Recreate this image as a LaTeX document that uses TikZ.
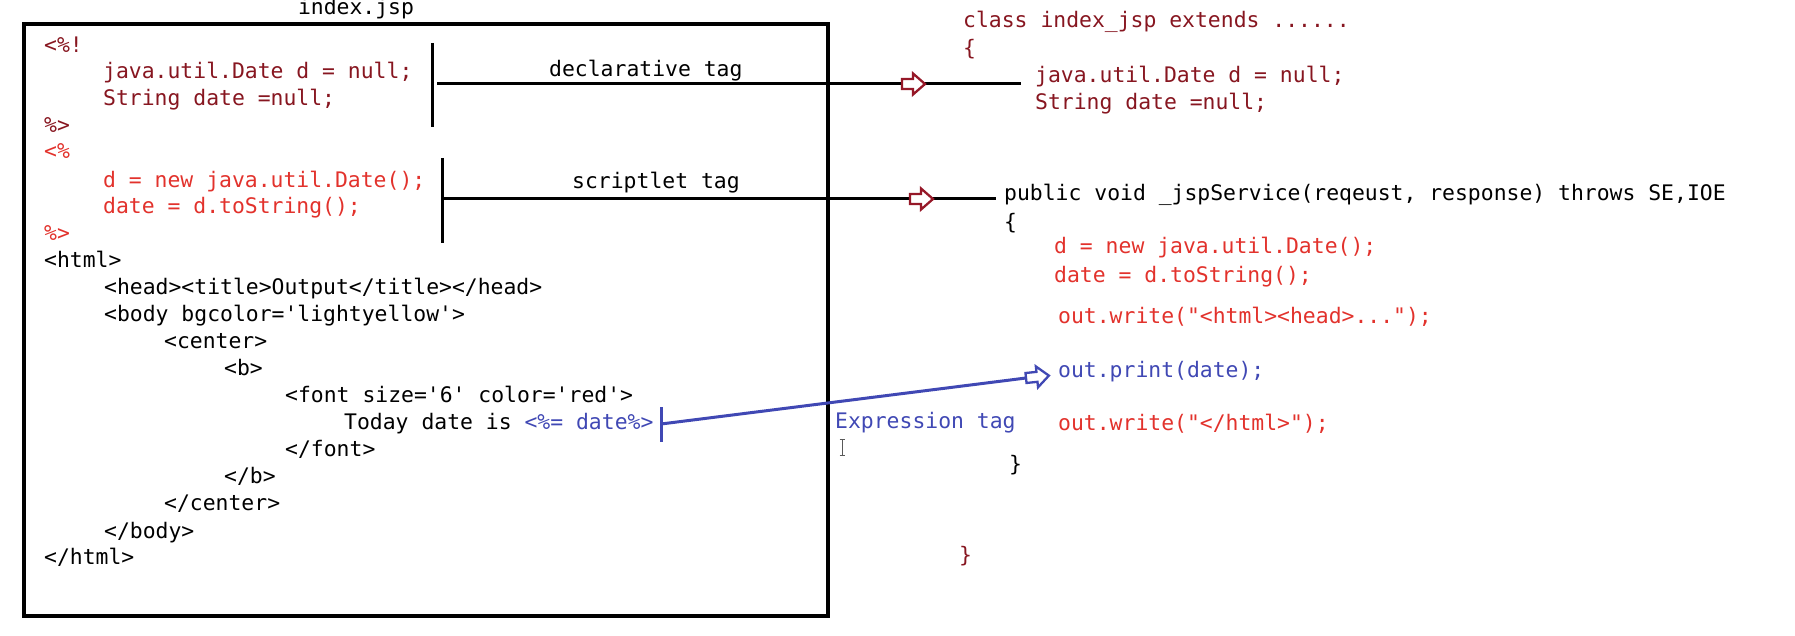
\documentclass[tikz,border=0pt]{standalone}
\usepackage{fontspec}
\setmonofont{DejaVu Sans Mono}
\definecolor{dred}{RGB}{135,22,32}
\definecolor{cred}{RGB}{226,50,44}
\definecolor{cblue}{RGB}{64,72,180}
\definecolor{ared}{RGB}{150,24,40}
\newcommand\fatarrow[3]{% anchor coordinate, colour, rotation
  \begin{scope}[shift={(#1)}, rotate=#3]
    \draw[#2, line width=2.3pt, fill=white, line join=miter]
      (0,-5) -- (11,-5) -- (11,-10.5) -- (23,0) -- (11,10.5) -- (11,5) -- (0,5) -- cycle;
  \end{scope}}
\begin{document}
\begin{tikzpicture}[x=1pt,y=-1pt,
  code/.style={font=\ttfamily\fontsize{21.4}{26}\selectfont, anchor=west, inner sep=0pt, text height=15pt, text depth=4pt},
  bar/.style={line width=3pt},
  conn/.style={line width=3pt}]
\useasboundingbox (0,0) rectangle (1795,636);
% file box
\node[code, anchor=center] (title) at (356,9) {index.jsp};
\draw[line width=3.5pt] (24,24) rectangle (828,616);
% declarative block
\node[code, dred] (t1) at (44,47) {<\%!};
\node[code, dred] (t2) at (103,73) {java.util.Date d = null;};
\node[code, dred] (t3) at (103,100) {String date =null;};
\node[code, dred] (t4) at (44,127) {\%>};
% scriptlet block
\node[code, cred] (t5) at (44,153) {<\%};
\node[code, cred] (t6) at (103,182) {d = new java.util.Date();};
\node[code, cred] (t7) at (103,208) {date = d.toString();};
\node[code, cred] (t8) at (44,235) {\%>};
% html
\node[code] (h1) at (44,262) {<html>};
\node[code] (h2) at (104,289) {<head><title>Output</title></head>};
\node[code] (h3) at (104,316) {<body bgcolor='lightyellow'>};
\node[code] (h4) at (164,343) {<center>};
\node[code] (h5) at (224,370) {<b>};
\node[code] (h6) at (285,397) {<font size='6' color='red'>};
\node[code] (h7) at (344,424) {Today date is {\color{cblue}<\%= date\%>}};
\node[code] (h8) at (285,451) {</font>};
\node[code] (h9) at (224,478) {</b>};
\node[code] (h10) at (164,505) {</center>};
\node[code] (h11) at (104,533) {</body>};
\node[code] (h12) at (44,559) {</html>};
% right side
\node[code, dred] (r1) at (963,22) {class index\_jsp extends ......};
\node[code, dred] (r2) at (963,50) {\{};
\node[code, dred] (r3) at (1035,77) {java.util.Date d = null;};
\node[code, dred] (r4) at (1035,104) {String date =null;};
\node[code] (r5) at (1004,195) {public void \_jspService(reqeust, response) throws SE,IOE};
\node[code] (r6) at (1004,224) {\{};
\node[code, cred] (r7) at (1054,248) {d = new java.util.Date();};
\node[code, cred] (r8) at (1054,277) {date = d.toString();};
\node[code, cred] (r9) at (1058,318) {out.write("<html><head>...");};
\node[code, cblue] (r10) at (1058,372) {out.print(date);};
\node[code, cred] (r11) at (1058,425) {out.write("</html>");};
\node[code] (r12) at (1009,466) {\}};
\node[code, dred] (r13) at (959,557) {\}};
% labels
\node[code] (ldecl) at (549,71) {declarative tag};
\node[code] (lscr) at (572,183) {scriptlet tag};
\node[code, cblue] (lexp) at (835,423) {Expression tag};
% cursor
\draw[gray!70!black, line width=0.8pt] (842,439) -- (842,455) (839.5,439) -- (844.5,439) (839.5,455) -- (844.5,455);
% declarative connector
\coordinate (dtop) at (432,43);
\coordinate (dbot) at (432,127);
\coordinate (dmid) at (432,84);
\coordinate (darr) at (902,84);
\draw[bar] (dtop) -- (dbot);
\draw[conn] ([xshift=5pt]dmid) -- ([xshift=-14pt]r3.west |- dmid);
\fatarrow{darr}{ared}{0}
% scriptlet connector
\coordinate (stop) at (442,158);
\coordinate (sbot) at (442,243);
\coordinate (smid) at (442,199);
\coordinate (sarr) at (910,199);
\draw[bar] (stop) -- (sbot);
\draw[conn] (smid) -- ([xshift=-8pt]r5.west |- smid);
\fatarrow{sarr}{ared}{0}
% expression connector
\coordinate (etop) at (661,407);
\coordinate (ebot) at (661,442);
\coordinate (emid) at (661,424);
\coordinate (earr) at (1026,378);
\draw[cblue, line width=3pt] (etop) -- (ebot);
\draw[cblue, line width=3pt] (emid) -- (earr);
\fatarrow{earr}{cblue}{6}
\end{tikzpicture}
\end{document}
